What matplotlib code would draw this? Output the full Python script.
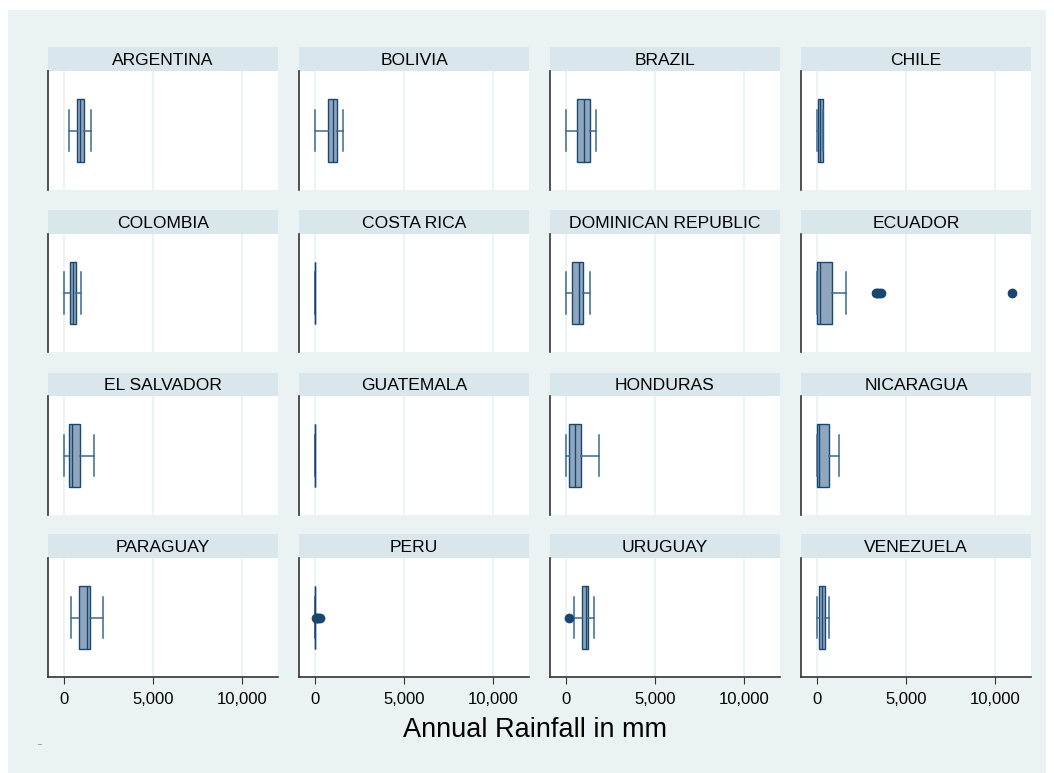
import matplotlib.pyplot as plt
from matplotlib.patches import Rectangle

plt.rcParams['font.family'] = ['Liberation Sans', 'DejaVu Sans']

countries = ["ARGENTINA", "BOLIVIA", "BRAZIL", "CHILE",
             "COLOMBIA", "COSTA RICA", "DOMINICAN REPUBLIC", "ECUADOR",
             "EL SALVADOR", "GUATEMALA", "HONDURAS", "NICARAGUA",
             "PARAGUAY", "PERU", "URUGUAY", "VENEZUELA"]
whislo = [300, 0, 0, 0, 0, 5, 0, 0, 0, 5, 0, 0, 375, 5, 470, 0]
q1 = [710, 730, 640, 40, 360, 5, 315, 0, 265, 5, 190, 0, 840, 5, 900, 130]
med = [920, 990, 1030, 180, 520, 5, 710, 170, 420, 5, 520, 130, 1310, 5, 1140, 260]
q3 = [1120, 1210, 1350, 320, 690, 5, 930, 840, 870, 5, 840, 660, 1460, 5, 1250, 470]
whishi = [1500, 1570, 1670, 340, 940, 5, 1370, 1610, 1670, 5, 1870, 1220, 2175, 5, 1540, 660]
fliers = {"ECUADOR": [3280, 3380, 3480, 3580, 10960],
          "PERU": [40, 110, 180, 250],
          "URUGUAY": [150]}

W, H = 1054, 773
fig = plt.figure(figsize=(W / 100, H / 100), dpi=100, facecolor="white")
fig.patches.append(Rectangle((8 / W, 0), (W - 16) / W, (H - 10) / H,
                             transform=fig.transFigure, facecolor="#EAF2F3",
                             edgecolor="none", zorder=-10))

col_x = [48, 299, 550, 801]
row_y = [(47, 71, 190), (210, 234, 352), (373, 396, 515), (534, 558, 677)]
pw = 230

for k, name in enumerate(countries):
    r, c = divmod(k, 4)
    st, top, bot = row_y[r]
    x0 = col_x[c]
    # strip
    sax = fig.add_axes([x0 / W, 1 - top / H, pw / W, (top - st) / H])
    sax.set_facecolor("#D9E6EB")
    sax.set_xticks([])
    sax.set_yticks([])
    for s in sax.spines.values():
        s.set_visible(False)
    sax.text(0.5, 0.45, name, ha="center", va="center", fontsize=12.6)

    ax = fig.add_axes([x0 / W, 1 - bot / H, pw / W, (bot - top) / H])
    ax.set_facecolor("white")
    stats = [{"label": name, "whislo": whislo[k], "q1": q1[k], "med": med[k],
              "q3": q3[k], "whishi": whishi[k], "fliers": fliers.get(name, [])}]
    ax.bxp(stats, positions=[0], widths=1.06, capwidths=0.7,
           orientation="horizontal", patch_artist=True,
           boxprops=dict(facecolor="#8FA6BE", edgecolor="#1A476F", linewidth=1.0),
           medianprops=dict(color="#1A476F", linewidth=1.0),
           whiskerprops=dict(color="#3D6A92", linewidth=1.1),
           capprops=dict(color="#3D6A92", linewidth=1.1),
           flierprops=dict(marker="o", markerfacecolor="#1A476F",
                           markeredgecolor="#1A476F", markersize=6))
    ax.set_xlim(-900, 12000)
    ax.set_ylim(-1, 1)
    ax.set_yticks([])
    ax.set_xticks([0, 5000, 10000])
    ax.grid(axis="x", color="#EAF2F3", linewidth=1.3)
    ax.set_axisbelow(True)
    ax.spines["top"].set_visible(False)
    ax.spines["right"].set_visible(False)
    ax.spines["left"].set_color("#333333")
    ax.spines["left"].set_linewidth(1.2)
    if r == 3:
        ax.spines["bottom"].set_color("#333333")
        ax.spines["bottom"].set_linewidth(1.2)
        ax.set_xticklabels(["0", "5,000", "10,000"], fontsize=12)
        ax.tick_params(axis="x", length=5, color="#333333", pad=6)
    else:
        ax.spines["bottom"].set_visible(False)
        ax.tick_params(axis="x", length=0, labelbottom=False)

fig.text(535 / W, 1 - 730 / H, "Annual Rainfall in mm", ha="center",
         va="center", fontsize=19.5)
fig.text(40 / W, 1 - 745 / H, "\u2013", ha="center", va="center",
         fontsize=5, color="#555555")

fig.savefig("out.png", dpi=100, facecolor=fig.get_facecolor())
